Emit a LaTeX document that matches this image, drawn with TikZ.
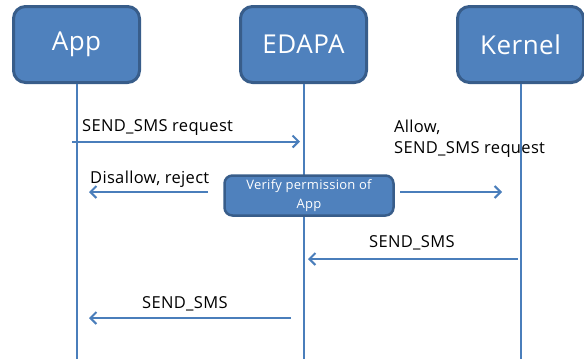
\documentclass[tikz,border=0pt]{standalone}
\usepackage{fontspec}
\setmainfont{Open Sans}[LetterSpace=2]
\usetikzlibrary{arrows.meta}
\definecolor{boxfill}{HTML}{4F81BD}
\definecolor{boxedge}{HTML}{385D8A}
\definecolor{wire}{HTML}{4A7EBB}
\tikzset{
  actor/.style={draw=boxedge, line width=3pt, fill=boxfill, rounded corners=12pt,
    minimum width=126pt, minimum height=76pt, inner sep=0pt, text=white,
    font=\fontsize{26}{30}\selectfont},
  checkbox/.style={draw=boxedge, line width=2.5pt, fill=boxfill, rounded corners=8pt,
    minimum width=169pt, minimum height=40pt, inner sep=0pt, text=white,
    align=center, font=\fontsize{13}{19}\selectfont},
  lifeline/.style={draw=wire, line width=2pt},
  msg/.style={draw=wire, line width=2pt, -{Straight Barb[length=6pt,width=12pt]}},
  msglabel/.style={anchor=base west, inner sep=0pt, align=left,
    font=\fontsize{16.5}{21}\selectfont}
}
\begin{document}
\begin{tikzpicture}[x=1pt, y=-1pt]
\useasboundingbox (0,0) rectangle (584,362);

% participants
\node[actor] (app)    at (76.5,44.5) {App};
\node[actor] (edapa)  at (303.5,44.5) {EDAPA};
\node[actor] (kernel) at (520.5,44.5) {Kernel};

% lifelines
\coordinate (appEnd)    at (76.5,359);
\coordinate (edapaEnd)  at (303.5,359);
\coordinate (kernelEnd) at (520.5,359);
\draw[lifeline] (app.south) -- (appEnd);
\draw[lifeline] (edapa.south) -- (edapaEnd);
\draw[lifeline] (kernel.south) -- (kernelEnd);

% permission check
\node[checkbox] (verify) at (309,195.5) {Verify permission of\\App};

% message end points
\coordinate (reqFrom)   at (72,141.5);
\coordinate (reqTo)     at (300,141.5);
\coordinate (rejFrom)   at (208,192);
\coordinate (rejTo)     at (89,192);
\coordinate (allowFrom) at (400,192);
\coordinate (allowTo)   at (502,192);
\coordinate (smsFrom)   at (518,259);
\coordinate (smsTo)     at (308,259);
\coordinate (sms2From)  at (291,318);
\coordinate (sms2To)    at (89,318);

% messages
\draw[msg] (reqFrom) -- (reqTo);
\draw[msg] (rejFrom) -- (rejTo);
\draw[msg] (allowFrom) -- (allowTo);
\draw[msg] (smsFrom) -- (smsTo);
\draw[msg] (sms2From) -- (sms2To);

% message labels
\node[msglabel] (reqLbl)   at (82,131) {SEND\_SMS request};
\node[msglabel] (rejLbl)   at (90,183) {Disallow, reject};
\node[msglabel] (allowLbl) at (394,153) {Allow,\\SEND\_SMS request};
\node[msglabel] (smsLbl)   at (369,247.5) {SEND\_SMS};
\node[msglabel] (sms2Lbl)  at (142,308) {SEND\_SMS};
\end{tikzpicture}
\end{document}
